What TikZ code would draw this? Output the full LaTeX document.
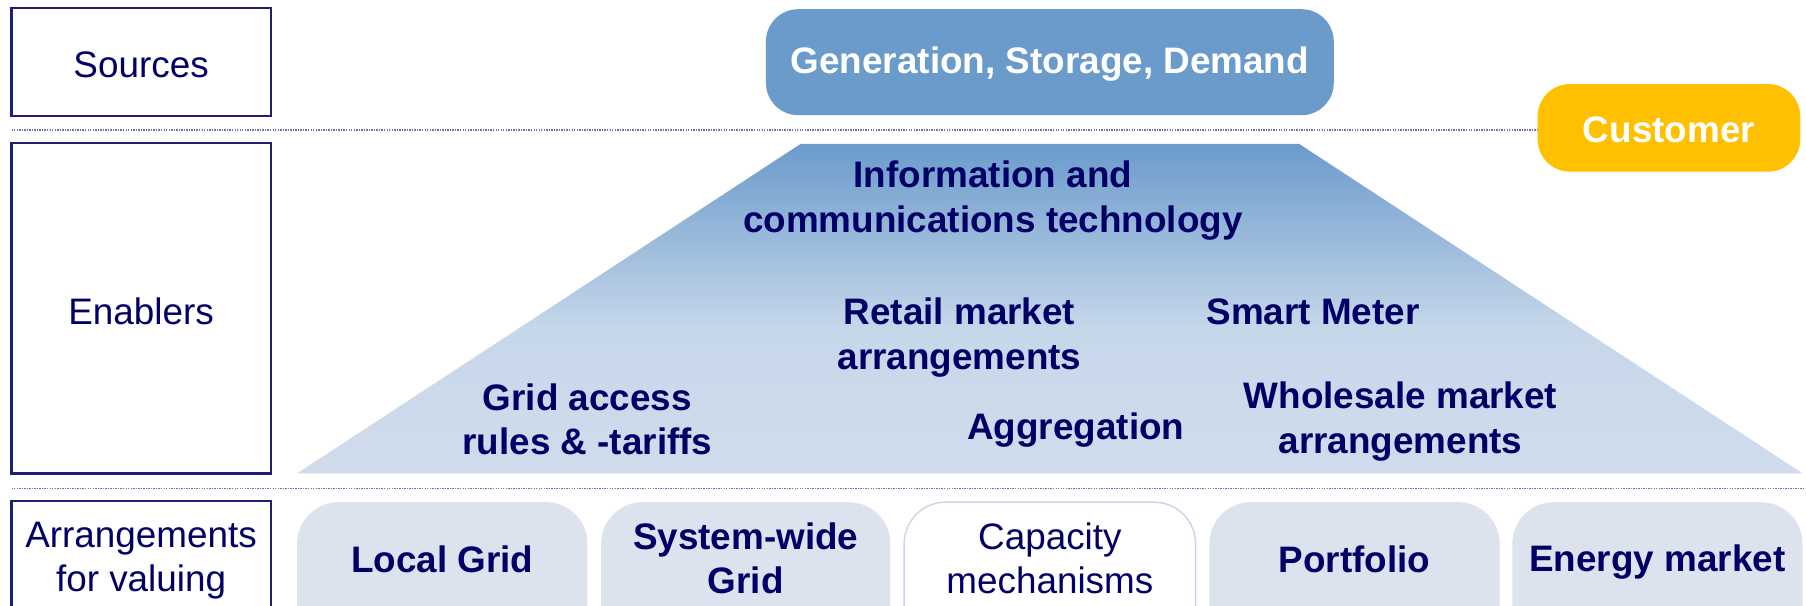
\documentclass[tikz,border=0pt]{standalone}
\usepackage{fontspec}
\setmainfont{Liberation Sans}
\definecolor{navy}{HTML}{000066}
\definecolor{frameblue}{HTML}{1F1F7A}
\definecolor{srcblue}{HTML}{6B9BCB}
\definecolor{paleblue}{HTML}{C6D7EA}
\definecolor{bottomblue}{HTML}{D0DCEC}
\definecolor{boxgrey}{HTML}{DDE3EE}
\definecolor{custyellow}{HTML}{FFC000}
\definecolor{dotline}{HTML}{7070B0}
\pgfdeclareverticalshading{trapshade}{100bp}{color(0bp)=(bottomblue); color(25bp)=(bottomblue); color(47bp)=(paleblue); color(75bp)=(srcblue); color(100bp)=(srcblue)}
\tikzset{
  x=1pt, y=-1pt,
  lbl/.style={font=\fontsize{32}{38.5}\selectfont, text=navy, align=center, inner sep=0pt},
  blbl/.style={lbl, font=\fontsize{32}{38.5}\selectfont\bfseries},
  sidebox/.style={draw=frameblue, line width=2pt, fill=white},
  arrbox/.style={fill=boxgrey, rounded corners=36pt},
  sepline/.style={draw=dotline, line width=1.2pt, densely dotted},
}
\begin{document}
\begin{tikzpicture}
\useasboundingbox (0,0) rectangle (1568,526);
\clip (0,0) rectangle (1568,526);
\fill[white] (0,0) rectangle (1568,526);
% separators
\coordinate (s1a) at (10,113);
\coordinate (s1b) at (1336,113);
\coordinate (s2a) at (10,424);
\coordinate (s2b) at (1566,424);
\draw[sepline] (s1a) -- (s1b);
\draw[sepline] (s2a) -- (s2b);
% side boxes
\draw[sidebox] (10,7) rectangle (235,101);
\node[lbl] (sources) at (122.5,56) {Sources};
\draw[sidebox] (10,124) rectangle (235,411);
\node[lbl] (enablers) at (122.5,270) {Enablers};
\draw[sidebox] (10,435) rectangle (235,560);
\node[lbl] (arr) at (122.5,487) {Arrangements\\for valuing};
% source box
\fill[srcblue, rounded corners=28pt] (665,8) rectangle (1158,100);
\node[blbl, text=white] (gen) at (911.5,56) {Generation, Storage, Demand};
% customer
\fill[custyellow, rounded corners=28pt] (1335,73) rectangle (1563,149);
\node[blbl, text=white] (cust) at (1449,113) {Customer};
% trapezoid
\shade[shading=trapshade]
  (695,125) -- (1128,125) -- (1565,411) -- (258,411) -- cycle;
\node[blbl] (ict) at (862,174) {Information and\\communications technology};
\node[blbl] (retail) at (833,293) {Retail market\\arrangements};
\node[blbl] (smart) at (1140,271) {Smart Meter};
\node[blbl] (grid) at (510,364) {Grid access\\rules \& -tariffs};
\node[blbl] (aggr) at (934,373) {Aggregation};
\node[blbl] (whole) at (1216,366) {Wholesale market\\arrangements};
% arrangement boxes
\fill[arrbox] (258,436) rectangle (510,580);
\node[blbl] (local) at (384,486) {Local Grid};
\fill[arrbox] (522,436) rectangle (773,580);
\node[blbl] (syswide) at (647.5,485) {System-wide\\Grid};
\draw[draw=boxgrey!80!srcblue, line width=1.2pt, fill=white, rounded corners=36pt] (785,436) rectangle (1038,580);
\node[lbl] (cap) at (911.5,485) {Capacity\\mechanisms};
\fill[arrbox] (1050,436) rectangle (1302,580);
\node[blbl] (port) at (1176,486) {Portfolio};
\fill[arrbox] (1313,436) rectangle (1565,580);
\node[blbl] (energy) at (1439,488) {Energy market};
\end{tikzpicture}
\end{document}
